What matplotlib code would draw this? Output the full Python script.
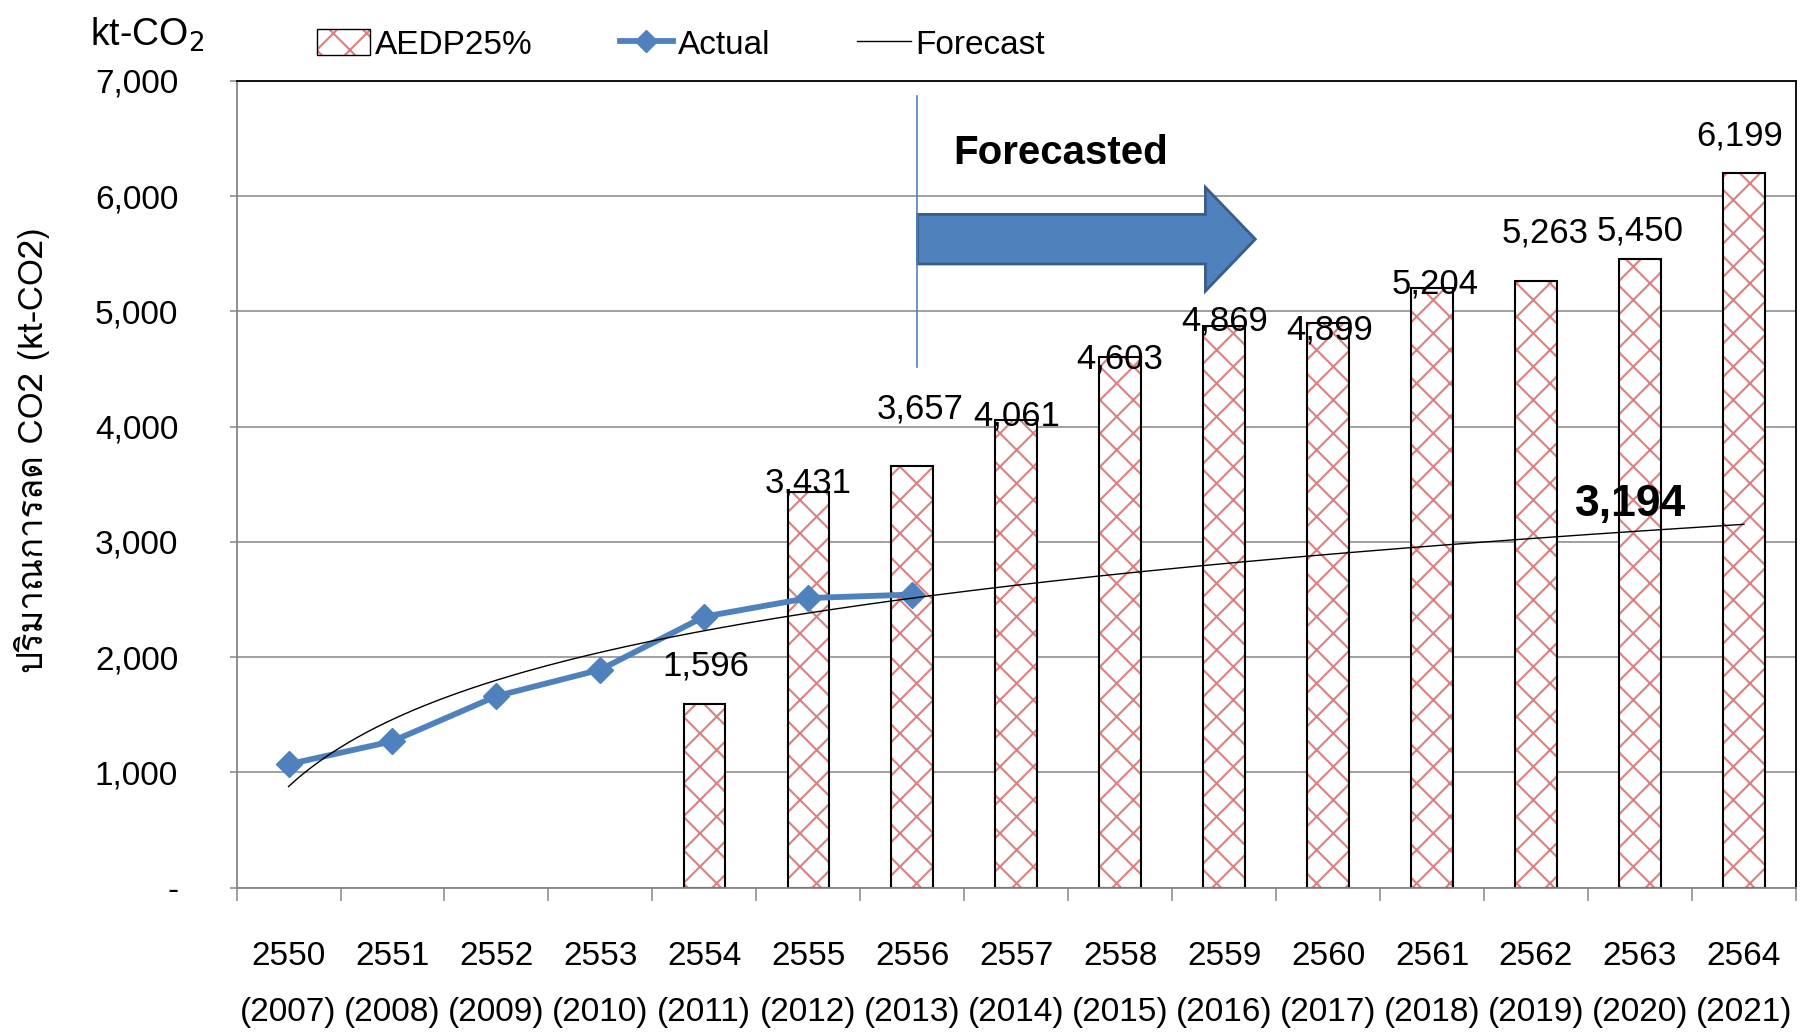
import numpy as np
import matplotlib
matplotlib.use("Agg")
import matplotlib.pyplot as plt
from matplotlib import font_manager
from matplotlib.ft2font import FT2Font
from matplotlib.patches import FancyArrow, Patch
from matplotlib.lines import Line2D
from matplotlib.ticker import FuncFormatter

# data
years_be = ["2550", "2551", "2552", "2553", "2554", "2555", "2556", "2557",
            "2558", "2559", "2560", "2561", "2562", "2563", "2564"]
years_ce = ["2007", "2008", "2009", "2010", "2011", "2012", "2013", "2014",
            "2015", "2016", "2017", "2018", "2019", "2020", "2021"]
actual = [1071, 1271, 1662, 1892, 2352, 2513, 2543]
aedp25 = [np.nan, np.nan, np.nan, np.nan, 1596, 3431, 3657, 4061,
          4603, 4869, 4899, 5204, 5263, 5450, 6199]
forecast_label = "3,194"


def find_thai_font():
    for f in font_manager.fontManager.ttflist:
        try:
            cmap = FT2Font(f.fname).get_charmap()
        except Exception:
            continue
        if 0x0E1B in cmap and 0x0E32 in cmap and 0x0E13 in cmap:
            return f.name
    return "DejaVu Sans"


thai_font = find_thai_font()
plt.rcParams["font.family"] = ["Liberation Sans", "DejaVu Sans"]
plt.rcParams["hatch.linewidth"] = 1.5

BLUE = "#4F81BD"
GRID = "#868686"
HATCH = "#DB8080"

fig = plt.figure(figsize=(18.1, 10.32), dpi=100)
ax = fig.add_axes([0.1307, 0.1398, 0.8615, 0.7819])

x = np.arange(len(years_be))

# bars
bars = ax.bar(x, aedp25, width=0.4, facecolor="white", edgecolor="black",
              linewidth=1.5, hatch="x", zorder=2)
for b in bars:
    b._hatch_color = matplotlib.colors.to_rgba(HATCH)

# value labels (offsets tuned by eye)
lab_dx = [0, 0, 0, 0, 0.01, 0, 0.08, 0, 0, 0, 0.01, 0.03, 0.09, 0, -0.04]
lab_dy = [0, 0, 0, 0, 326, 83, 497, 33, -18, 46, -64, 31, 413, 246, 318]
for i, v in enumerate(aedp25):
    if np.isnan(v):
        continue
    ax.text(x[i] + lab_dx[i], v + lab_dy[i], f"{int(v):,}", ha="center",
            va="center", fontsize=25, zorder=5)

# actual line
xa = x[:len(actual)]
ax.plot(xa, actual, color=BLUE, lw=4.2, marker="D", ms=13, zorder=4)

# log trendline fitted to the actual values (Excel style)
coef = np.polyfit(np.log(xa + 1), actual, 1)
xt = np.linspace(0, x[-1], 300)
ax.plot(xt, coef[0] * np.log(xt + 1) + coef[1], color="black", lw=1, zorder=4)
ax.text(12.91, 3323, forecast_label, ha="center", va="center", fontsize=32,
        fontweight="bold", zorder=5)

# forecasted marker
ax.plot([6.05, 6.05], [4514, 6867], color=BLUE, lw=1.2, zorder=6)
arrow = FancyArrow(6.05, 5626, 3.25, 0, width=430, head_width=900,
                   head_length=0.48, length_includes_head=True,
                   facecolor=BLUE, edgecolor="#385D8A", linewidth=2, zorder=5)
ax.add_patch(arrow)
ax.text(6.39, 6376, "Forecasted", ha="left", va="center", fontsize=29,
        fontweight="bold")

# axes styling
ax.set_xlim(-0.5, 14.5)
ax.set_ylim(0, 7000)
ax.set_axisbelow(True)
ax.yaxis.grid(True, color=GRID, lw=1.1)
ax.set_yticks(np.arange(0, 7001, 1000))
ax.yaxis.set_major_formatter(FuncFormatter(lambda v, p: "-" if v == 0 else f"{int(v):,}"))
ax.tick_params(axis="y", direction="out", length=5, color=GRID, width=1.1,
               labelsize=24, pad=37)

ax.set_xticks(x)
ax.set_xticklabels([f"{a}\n({b})" for a, b in zip(years_be, years_ce)],
                   linespacing=2.05)
ax.set_xticks(np.arange(-0.5, 15, 1), minor=True)
ax.tick_params(axis="x", which="major", length=0, labelsize=24, pad=38)
ax.tick_params(axis="x", which="minor", direction="out", length=9,
               color=GRID, width=1.1)

for s in ["left", "bottom"]:
    ax.spines[s].set_color(GRID)
    ax.spines[s].set_linewidth(1.3)
for s in ["top", "right"]:
    ax.spines[s].set_color("black")
    ax.spines[s].set_linewidth(1.3)

# y label and unit
fig.text(32 / 1810, 1 - 450 / 1032, "ปริมาณการลด CO2 (kt-CO2)", rotation=90,
         ha="center", va="center", fontsize=25, family=[thai_font, "DejaVu Sans"])
fig.text(90 / 1810, 1 - 35 / 1032, "kt-CO$_2$", ha="left", va="center",
         fontsize=27)

# legend
handles = [
    Patch(facecolor="white", edgecolor="black", hatch="x", label="AEDP25%"),
    Line2D([], [], color=BLUE, lw=4.2, marker="D", ms=11, label="Actual"),
    Line2D([], [], color="black", lw=1, label="Forecast"),
]
leg = fig.legend(handles=handles, loc="center left",
                 bbox_to_anchor=(317 / 1810, 1 - 45 / 1032), ncol=3,
                 frameon=False, fontsize=24, handlelength=1.6,
                 handleheight=0.8, handletextpad=0.15, columnspacing=2.6,
                 borderpad=0, borderaxespad=0)
leg.get_patches()[0]._hatch_color = matplotlib.colors.to_rgba(HATCH)

fig.savefig("out.png", dpi=100)
